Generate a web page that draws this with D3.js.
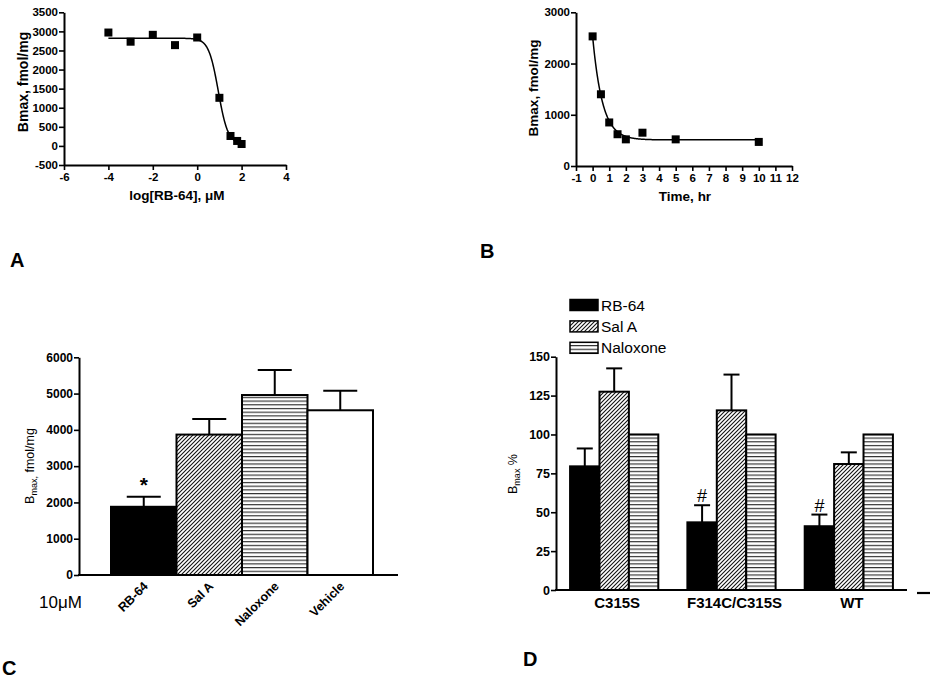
<!DOCTYPE html>
<html><head><meta charset="utf-8">
<script src="https://cdn.jsdelivr.net/npm/d3@7/dist/d3.min.js"></script>
<style>
body{margin:0;background:#fff;}
svg{display:block;}
text{font-family:"Liberation Sans",Arial,sans-serif;}
</style></head><body>
<script>
// ---------- Panel A data ----------
const aLogConc = [-4, -3, -2, -1, 0, 1, 1.5, 1.8, 2];
const aBmax = [2970, 2730, 2910, 2640, 2840, 1260, 260, 130, 50];
const aFitTop = 2820, aFitBottom = 50, aFitLogIC50 = 0.95, aFitHill = 2;
const aXTicks = [-6, -4, -2, 0, 2, 4];
const aYTicks = [-500, 0, 500, 1000, 1500, 2000, 2500, 3000, 3500];

// ---------- Panel B data ----------
const bTime = [0, 0.5, 1, 1.5, 2, 3, 5, 10];
const bBmax = [2530, 1400, 850, 620, 520, 650, 520, 470];
const bFitPlateau = 510, bFitSpan = 2020, bFitK = 1.7;
const bXTicks = [-1,0,1,2,3,4,5,6,7,8,9,10,11,12];
const bYTicks = [0, 1000, 2000, 3000];

// ---------- Panel C data ----------
const cCategories = ["RB-64", "Sal A", "Naloxone", "Vehicle"];
const cValues = [1880, 3870, 4960, 4540];
const cErrTop = [2160, 4300, 5650, 5080];
const cPatterns = ["solid", "diag", "horiz", "white"];
const cYTicks = [0, 1000, 2000, 3000, 4000, 5000, 6000];

// ---------- Panel D data ----------
const dGroups = ["C315S", "F314C/C315S", "WT"];
const dSeries = ["RB-64", "Sal A", "Naloxone"];
const dRB64 = [79.5, 43.5, 41];
const dRB64Err = [91, 54.5, 48.5];
const dSalA = [127.5, 115.5, 81];
const dSalAErr = [142.5, 138.5, 88.5];
const dNaloxone = [100, 100, 100];
const dYTicks = [0, 25, 50, 75, 100, 125, 150];
const dSignif = ["", "#", "#"];

const fmt = d => String(d);
const svg = d3.select("body").append("svg").attr("width", 940).attr("height", 682);
const defs = svg.append("defs");
const diag = defs.append("pattern").attr("id","diag").attr("patternUnits","userSpaceOnUse").attr("width",4).attr("height",4);
diag.append("rect").attr("width",4).attr("height",4).attr("fill","#fff");
diag.append("path").attr("d","M-1,1 l2,-2 M0,4 l4,-4 M3,5 l2,-2").attr("stroke","#111").attr("stroke-width",1.1);
const horiz = defs.append("pattern").attr("id","horiz").attr("patternUnits","userSpaceOnUse").attr("width",4).attr("height",3.7);
horiz.append("rect").attr("width",4).attr("height",3.7).attr("fill","#fff");
horiz.append("line").attr("x1",0).attr("x2",4).attr("y1",1.5).attr("y2",1.5).attr("stroke","#333").attr("stroke-width",1.2);
const fillOf = p => p==="solid" ? "#000" : p==="white" ? "#fff" : `url(#${p})`;

function styleAxis(g, fs){
  g.select(".domain").attr("stroke","#000").attr("stroke-width",2);
  g.selectAll(".tick line").attr("stroke","#000").attr("stroke-width",1.6);
  g.selectAll(".tick text").attr("font-weight","bold").attr("font-size",fs).attr("fill","#000")
    .attr("font-family","'Liberation Sans',Arial,sans-serif");
}
function letter(t,x,y){
  svg.append("text").attr("x",x).attr("y",y).text(t).attr("font-size",20).attr("font-weight","bold")
   .attr("font-family","'Open Sans',Lato,sans-serif");
}

// ================= Panel A =================
{
  const x = d3.scaleLinear().domain([-6,4]).range([64,286]);
  const y = d3.scaleLinear().domain([-500,3500]).range([165,12.3]);
  const gx = svg.append("g").attr("transform","translate(0,165)")
    .call(d3.axisBottom(x).tickValues(aXTicks).tickFormat(fmt).tickSize(5).tickSizeOuter(0).tickPadding(3));
  styleAxis(gx, 11.5);
  const gy = svg.append("g").attr("transform","translate(64,0)")
    .call(d3.axisLeft(y).tickValues(aYTicks).tickFormat(fmt).tickSize(5).tickSizeOuter(0).tickPadding(1));
  styleAxis(gy, 11.5);
  const fx = d3.range(-4, 2.001, 0.02);
  const line = d3.line().x(d=>x(d)).y(d=>y(aFitBottom + (aFitTop-aFitBottom)/(1+Math.pow(10,(d-aFitLogIC50)*aFitHill))));
  svg.append("path").datum(fx).attr("d",line).attr("fill","none").attr("stroke","#000").attr("stroke-width",1.5);
  svg.append("g").selectAll("rect").data(aLogConc).join("rect")
    .attr("x",(d)=>x(d)-4).attr("y",(d,i)=>y(aBmax[i])-4).attr("width",8).attr("height",8).attr("fill","#000");
  svg.append("text").attr("transform","translate(28,82) rotate(-90)").attr("text-anchor","middle")
    .attr("font-size",14).attr("font-weight","bold").text("Bmax, fmol/mg");
  svg.append("text").attr("x",177).attr("y",200).attr("text-anchor","middle")
    .attr("font-size",13.5).attr("font-weight","bold").text("log[RB-64], μM");
  letter("A",10,267);
}

// ================= Panel B =================
{
  const x = d3.scaleLinear().domain([-1,12]).range([576,792]);
  const y = d3.scaleLinear().domain([0,3000]).range([166,12.3]);
  const gx = svg.append("g").attr("transform","translate(0,166)")
    .call(d3.axisBottom(x).tickValues(bXTicks).tickFormat(fmt).tickSize(5).tickSizeOuter(0).tickPadding(3));
  styleAxis(gx, 11.5);
  const gy = svg.append("g").attr("transform","translate(576,0)")
    .call(d3.axisLeft(y).tickValues(bYTicks).tickFormat(fmt).tickSize(5).tickSizeOuter(0).tickPadding(1));
  styleAxis(gy, 11.5);
  const ft = d3.range(0, 10.001, 0.02);
  const line = d3.line().x(d=>x(d)).y(d=>y(bFitPlateau + bFitSpan*Math.exp(-bFitK*d)));
  svg.append("path").datum(ft).attr("d",line).attr("fill","none").attr("stroke","#000").attr("stroke-width",1.5);
  svg.append("g").selectAll("rect").data(bTime).join("rect")
    .attr("x",(d)=>x(d)-4).attr("y",(d,i)=>y(bBmax[i])-4).attr("width",8).attr("height",8).attr("fill","#000");
  svg.append("text").attr("transform","translate(538,88) rotate(-90)").attr("text-anchor","middle")
    .attr("font-size",13.5).attr("font-weight","bold").text("Bmax, fmol/mg");
  svg.append("text").attr("x",685).attr("y",201).attr("text-anchor","middle")
    .attr("font-size",13.5).attr("font-weight","bold").text("Time, hr");
  letter("B",480,258);
}

// ================= Panel C =================
{
  const x = d3.scaleBand().domain(cCategories).range([111,373]).padding(0);
  const y = d3.scaleLinear().domain([0,6000]).range([575,357.3]);
  svg.append("g").selectAll("rect").data(cCategories).join("rect")
    .attr("x",d=>x(d)).attr("width",x.bandwidth())
    .attr("y",(d,i)=>y(cValues[i])).attr("height",(d,i)=>y(0)-y(cValues[i]))
    .attr("fill",(d,i)=>fillOf(cPatterns[i])).attr("stroke","#000").attr("stroke-width",2);
  const eb = svg.append("g").attr("stroke","#000").attr("stroke-width",2);
  cCategories.forEach((c,i)=>{
    const cx = x(c)+x.bandwidth()/2;
    eb.append("line").attr("x1",cx).attr("x2",cx).attr("y1",y(cValues[i])).attr("y2",y(cErrTop[i]));
    eb.append("line").attr("x1",cx-17).attr("x2",cx+17).attr("y1",y(cErrTop[i])).attr("y2",y(cErrTop[i]));
  });
  svg.append("text").attr("x",x("RB-64")+x.bandwidth()/2).attr("y",y(cErrTop[0])-5).attr("text-anchor","middle")
    .attr("font-size",21).attr("font-weight","bold").text("*");
  const gy = svg.append("g").attr("transform","translate(79,0)")
    .call(d3.axisLeft(y).tickValues(cYTicks).tickFormat(fmt).tickSize(5).tickSizeOuter(0).tickPadding(1));
  styleAxis(gy, 12);
  svg.append("line").attr("x1",78).attr("x2",398).attr("y1",575).attr("y2",575).attr("stroke","#000").attr("stroke-width",2.2);
  svg.append("g").selectAll("text").data(cCategories).join("text")
    .attr("transform",d=>`translate(${x(d)+x.bandwidth()/2+5},${587}) rotate(-45)`)
    .attr("text-anchor","end").attr("font-size",12.5).attr("font-weight","bold").text(d=>d);
  svg.append("text").attr("x",39).attr("y",608).attr("font-size",17).text("10μM");
  const yl = svg.append("text").attr("transform","translate(34,466) rotate(-90)").attr("text-anchor","middle")
    .attr("font-size",12.5);
  yl.append("tspan").text("B");
  yl.append("tspan").attr("font-size",9).attr("dy",3).text("max,");
  yl.append("tspan").attr("dy",-3).text(" fmol/mg");
  letter("C",2,675);
}

// ================= Panel D =================
{
  const x0 = d3.scaleBand().domain(dGroups).range([556,907]).paddingInner(0.248).paddingOuter(0.12);
  const x1 = d3.scaleBand().domain(dSeries).range([0,x0.bandwidth()]).padding(0);
  const y = d3.scaleLinear().domain([0,150]).range([590,356.7]);
  const vals = [dRB64, dSalA, dNaloxone];
  const errs = [dRB64Err, dSalAErr, null];
  const pats = ["solid","diag","horiz"];
  dSeries.forEach((s,si)=>{
    svg.append("g").selectAll("rect").data(dGroups).join("rect")
      .attr("x",g=>x0(g)+x1(s)).attr("width",x1.bandwidth())
      .attr("y",(g,gi)=>y(vals[si][gi])).attr("height",(g,gi)=>y(0)-y(vals[si][gi]))
      .attr("fill",fillOf(pats[si])).attr("stroke","#000").attr("stroke-width",2);
  });
  const eb = svg.append("g").attr("stroke","#000").attr("stroke-width",2);
  dSeries.forEach((s,si)=>{
    if(!errs[si]) return;
    dGroups.forEach((g,gi)=>{
      const cx = x0(g)+x1(s)+x1.bandwidth()/2;
      eb.append("line").attr("x1",cx).attr("x2",cx).attr("y1",y(vals[si][gi])).attr("y2",y(errs[si][gi]));
      eb.append("line").attr("x1",cx-8).attr("x2",cx+8).attr("y1",y(errs[si][gi])).attr("y2",y(errs[si][gi]));
    });
  });
  dGroups.forEach((g,gi)=>{
    if(!dSignif[gi]) return;
    svg.append("text").attr("x",x0(g)+x1("RB-64")+x1.bandwidth()/2).attr("y",y(dRB64Err[gi])-3)
      .attr("text-anchor","middle").attr("font-size",18).text(dSignif[gi]);
  });
  const gy = svg.append("g").attr("transform","translate(556,0)")
    .call(d3.axisLeft(y).tickValues(dYTicks).tickFormat(fmt).tickSize(5).tickSizeOuter(0).tickPadding(1));
  styleAxis(gy, 12.5);
  svg.append("line").attr("x1",555).attr("x2",907).attr("y1",590).attr("y2",590).attr("stroke","#000").attr("stroke-width",2.2);
  svg.append("line").attr("x1",917).attr("x2",930).attr("y1",593).attr("y2",593).attr("stroke","#000").attr("stroke-width",2.2);
  svg.append("g").selectAll("text").data(dGroups).join("text")
    .attr("x",g=>x0(g)+x0.bandwidth()/2+3).attr("y",608).attr("text-anchor","middle")
    .attr("font-size",15).attr("font-weight","bold").text(d=>d);
  const yl = svg.append("text").attr("transform","translate(517,474) rotate(-90)").attr("text-anchor","middle")
    .attr("font-size",12.5);
  yl.append("tspan").text("B");
  yl.append("tspan").attr("font-size",9).attr("dy",3).text("max");
  yl.append("tspan").attr("dy",-3).text(" %");
  const lg = svg.append("g");
  dSeries.forEach((s,si)=>{
    const cy = 305 + si*21.4;
    lg.append("rect").attr("x",570).attr("y",cy-5.5).attr("width",28).attr("height",11)
      .attr("fill",fillOf(pats[si])).attr("stroke","#000").attr("stroke-width",1.5);
    lg.append("text").attr("x",601).attr("y",cy+5.5).attr("font-size",15.5).text(s);
  });
  letter("D",523,666);
}
</script>
</body></html>
